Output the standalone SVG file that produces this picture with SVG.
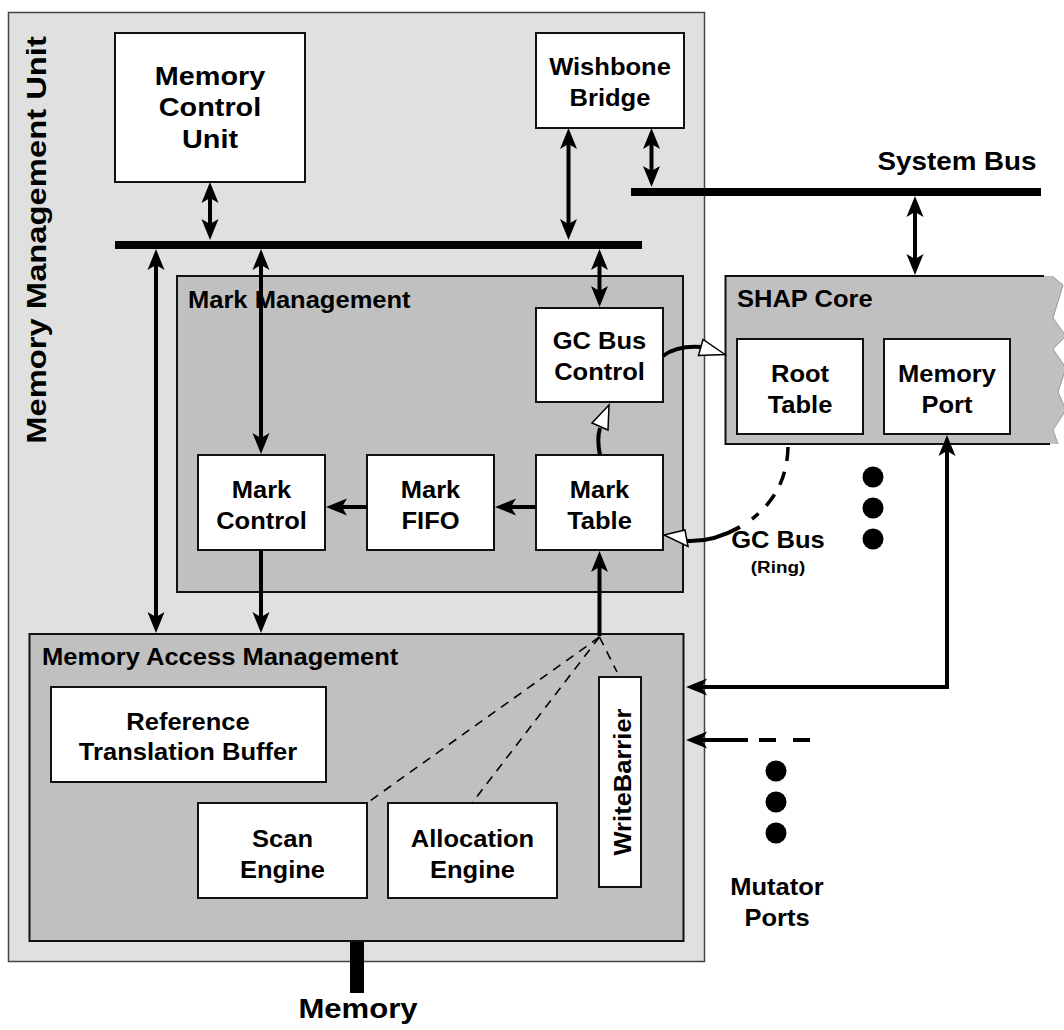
<svg xmlns="http://www.w3.org/2000/svg" width="1064" height="1030" viewBox="0 0 1064 1030">
  <style>
    text { font-family: "Liberation Sans", Arial, Helvetica, sans-serif; font-weight: bold; fill: #000; }
    .lbl { font-size: 23px; text-anchor: middle; }
    .big { font-size: 25.5px; text-anchor: middle; }
    .hdr { font-size: 23px; text-anchor: start; }
    .box { fill: #fff; stroke: #111; stroke-width: 2; }
    .sub { fill: #c0c0c0; stroke: #111; stroke-width: 2; }
    .conn { fill: none; stroke: #000; stroke-width: 4; }
    .dash { fill: none; stroke: #000; stroke-width: 1.6; stroke-dasharray: 9 7; }
    .open { fill: #fff; stroke: #000; stroke-width: 1.5; stroke-linejoin: miter; }
  </style>
  <defs>
    <marker id="ah" markerUnits="userSpaceOnUse" orient="auto-start-reverse" overflow="visible" markerWidth="30" markerHeight="30" refX="0" refY="0">
      <path d="M10,0 L-11,-8.5 L-6,0 L-11,8.5 Z" fill="#000"/>
    </marker>
  </defs>

  <!-- white background -->
  <rect x="0" y="0" width="1064" height="1030" fill="#fff"/>

  <!-- Memory Management Unit enclosure -->
  <g id="mmu">
    <rect x="8.5" y="12.5" width="696" height="949" fill="#e0e0e0" stroke="#444" stroke-width="1.5"/>
    <g transform="translate(46 240) rotate(-90) scale(1.17 1)">
      <text x="0" y="0" font-size="28" text-anchor="middle">Memory Management Unit</text>
    </g>
  </g>

  <!-- buses -->
  <g id="internal-bus">
    <rect x="115" y="241" width="527" height="8" fill="#000"/>
  </g>
  <g id="system-bus">
    <rect x="631" y="188" width="410" height="8" fill="#000"/>
    <g transform="translate(957 0) scale(1.11 1)">
      <text x="0" y="170" font-size="25" text-anchor="middle">System Bus</text>
    </g>
  </g>
  <g id="memory-port-out">
    <rect x="350" y="941" width="14" height="52" fill="#000"/>
    <g transform="translate(358 0) scale(1.11 1)">
      <text x="0" y="1018" font-size="28" text-anchor="middle">Memory</text>
    </g>
  </g>

  <!-- Memory Control Unit -->
  <g id="memory-control-unit">
    <rect class="box" x="115" y="33" width="190" height="149"/>
    <g transform="translate(210 0) scale(1.13 1)">
      <text class="big" x="0" y="85">Memory</text>
      <text class="big" x="0" y="116.5">Control</text>
      <text class="big" x="0" y="148">Unit</text>
    </g>
  </g>

  <!-- Wishbone Bridge -->
  <g id="wishbone-bridge">
    <rect class="box" x="536" y="33" width="148" height="95"/>
    <g transform="translate(610 0) scale(1.11 1)">
      <text class="lbl" x="0" y="75" font-size="22">Wishbone</text>
      <text class="lbl" x="0" y="106" font-size="22">Bridge</text>
    </g>
  </g>

  <!-- Mark Management -->
  <g id="mark-management">
    <rect class="sub" x="177" y="276" width="506" height="316"/>
    <g transform="translate(188 0) scale(1.11 1)">
      <text class="hdr" x="0" y="308">Mark Management</text>
    </g>
  </g>

  <g id="gc-bus-control">
    <rect class="box" x="536" y="308" width="127" height="94"/>
    <g transform="translate(599.5 0) scale(1.11 1)">
      <text class="lbl" x="0" y="349">GC Bus</text>
      <text class="lbl" x="0" y="380">Control</text>
    </g>
  </g>

  <g id="mark-table">
    <rect class="box" x="536" y="455" width="127" height="95"/>
    <g transform="translate(599.5 0) scale(1.11 1)">
      <text class="lbl" x="0" y="498">Mark</text>
      <text class="lbl" x="0" y="529">Table</text>
    </g>
  </g>

  <g id="mark-fifo">
    <rect class="box" x="367" y="455" width="127" height="95"/>
    <g transform="translate(430.5 0) scale(1.11 1)">
      <text class="lbl" x="0" y="498">Mark</text>
      <text class="lbl" x="0" y="529">FIFO</text>
    </g>
  </g>

  <g id="mark-control">
    <rect class="box" x="198" y="455" width="127" height="95"/>
    <g transform="translate(261.5 0) scale(1.11 1)">
      <text class="lbl" x="0" y="498">Mark</text>
      <text class="lbl" x="0" y="529">Control</text>
    </g>
  </g>

  <!-- Memory Access Management -->
  <g id="memory-access-management">
    <rect class="sub" x="29.5" y="634" width="654" height="307"/>
    <g transform="translate(42 0) scale(1.11 1)">
      <text class="hdr" x="0" y="665">Memory Access Management</text>
    </g>
  </g>

  <g id="reference-translation-buffer">
    <rect class="box" x="51" y="687" width="275" height="95"/>
    <g transform="translate(188 0) scale(1.11 1)">
      <text class="lbl" x="0" y="730">Reference</text>
      <text class="lbl" x="0" y="760">Translation Buffer</text>
    </g>
  </g>

  <g id="scan-engine">
    <rect class="box" x="198" y="803" width="169" height="95"/>
    <g transform="translate(282.5 0) scale(1.11 1)">
      <text class="lbl" x="0" y="847">Scan</text>
      <text class="lbl" x="0" y="878">Engine</text>
    </g>
  </g>

  <g id="allocation-engine">
    <rect class="box" x="388" y="803" width="169" height="95"/>
    <g transform="translate(472.5 0) scale(1.11 1)">
      <text class="lbl" x="0" y="847">Allocation</text>
      <text class="lbl" x="0" y="878">Engine</text>
    </g>
  </g>

  <g id="write-barrier">
    <rect class="box" x="599" y="677" width="42" height="210"/>
    <g transform="translate(631 782) rotate(-90) scale(1.11 1)">
      <text class="lbl" x="0" y="0">WriteBarrier</text>
    </g>
  </g>

  <!-- SHAP Core (cut off on the right) -->
  <g id="shap-core">
    <path d="M725.5,276 H1052 L1063,285 L1053,318 L1066,336 L1053,349 L1066,368 L1058,392 L1066,410 L1053,430 L1058,444 H725.5 Z" fill="#c0c0c0" stroke="none"/>
    <path d="M1052,276 L1063,285 L1053,318 L1066,336 L1053,349 L1066,368 L1058,392 L1066,410 L1053,430 L1058,444" fill="none" stroke="#999" stroke-width="1"/>
    <path d="M1044,276 H725.5 V444 H1050" fill="none" stroke="#111" stroke-width="2"/>
    <g transform="translate(737 0) scale(1.11 1)">
      <text class="hdr" x="0" y="307">SHAP Core</text>
    </g>
  </g>

  <g id="root-table">
    <rect class="box" x="737" y="339" width="126" height="95"/>
    <g transform="translate(800 0) scale(1.11 1)">
      <text class="lbl" x="0" y="382">Root</text>
      <text class="lbl" x="0" y="413">Table</text>
    </g>
  </g>

  <g id="memory-port">
    <rect class="box" x="884" y="339" width="126" height="95"/>
    <g transform="translate(947 0) scale(1.11 1)">
      <text class="lbl" x="0" y="382">Memory</text>
      <text class="lbl" x="0" y="413">Port</text>
    </g>
  </g>

  <!-- further cores and mutator ports -->
  <g id="more-cores">
    <circle cx="873" cy="477" r="10.5"/>
    <circle cx="873" cy="508" r="10.5"/>
    <circle cx="873" cy="539" r="10.5"/>
  </g>

  <g id="mutator-ports">
    <circle cx="776" cy="771" r="10.5"/>
    <circle cx="776" cy="802" r="10.5"/>
    <circle cx="776" cy="833" r="10.5"/>
    <g transform="translate(777 0) scale(1.11 1)">
      <text class="lbl" x="0" y="895">Mutator</text>
      <text class="lbl" x="0" y="926">Ports</text>
    </g>
  </g>

  <g id="gc-bus-label">
    <g transform="translate(778 0) scale(1.11 1)">
      <text class="lbl" x="0" y="548">GC Bus</text>
      <text x="0" y="573" font-size="17" text-anchor="middle">(Ring)</text>
    </g>
  </g>

  <!-- connectors -->
  <g id="connectors">
    <!-- bus links with arrowheads on both ends -->
    <line class="conn" x1="210" y1="192" x2="210" y2="230" marker-start="url(#ah)" marker-end="url(#ah)"/>
    <line class="conn" x1="568.5" y1="138" x2="568.5" y2="230" marker-start="url(#ah)" marker-end="url(#ah)"/>
    <line class="conn" x1="651.5" y1="138" x2="651.5" y2="177" marker-start="url(#ah)" marker-end="url(#ah)"/>
    <line class="conn" x1="915" y1="206" x2="915" y2="265" marker-start="url(#ah)" marker-end="url(#ah)"/>
    <line class="conn" x1="156" y1="259" x2="156" y2="623" marker-start="url(#ah)" marker-end="url(#ah)"/>
    <line class="conn" x1="261" y1="259" x2="261" y2="444" marker-start="url(#ah)" marker-end="url(#ah)"/>
    <line class="conn" x1="599.5" y1="259" x2="599.5" y2="297" marker-start="url(#ah)" marker-end="url(#ah)"/>

    <!-- one-way links -->
    <line class="conn" x1="261" y1="550" x2="261" y2="623" marker-end="url(#ah)"/>
    <line class="conn" x1="367" y1="507" x2="336" y2="507" marker-end="url(#ah)"/>
    <line class="conn" x1="536" y1="507" x2="505" y2="507" marker-end="url(#ah)"/>
    <line class="conn" x1="599.5" y1="636" x2="599.5" y2="561" marker-end="url(#ah)"/>
    <polyline class="conn" points="947,445 947,687 696,687" marker-start="url(#ah)" marker-end="url(#ah)"/>
    <line class="conn" x1="748" y1="740" x2="696" y2="740" marker-end="url(#ah)"/>
    <line class="conn" x1="759" y1="740" x2="810" y2="740" stroke-dasharray="17 17"/>

    <!-- fan-in from the engines to the mark table path -->
    <line class="dash" x1="599.5" y1="637" x2="367" y2="803"/>
    <line class="dash" x1="599.5" y1="637" x2="472" y2="803"/>
    <line class="dash" x1="599.5" y1="637" x2="617" y2="672"/>

    <!-- GC bus ring -->
    <path class="conn" d="M600,455 C598,446 597,438 600,428"/>
    <polygon class="open" points="609,405 592,423 608,430"/>
    <path class="conn" d="M663,356 C672,349 685,346 701,347"/>
    <polygon class="open" points="725,354.5 703,339.5 698.5,355.5"/>
    <path class="conn" d="M686,541 C705,542 724,536 740,527"/>
    <polygon class="open" points="664,535 685,530 688,546.5"/>
    <path d="M788,447 Q787,492 752,519" fill="none" stroke="#000" stroke-width="3.5" stroke-dasharray="14 11"/>
  </g>
</svg>
